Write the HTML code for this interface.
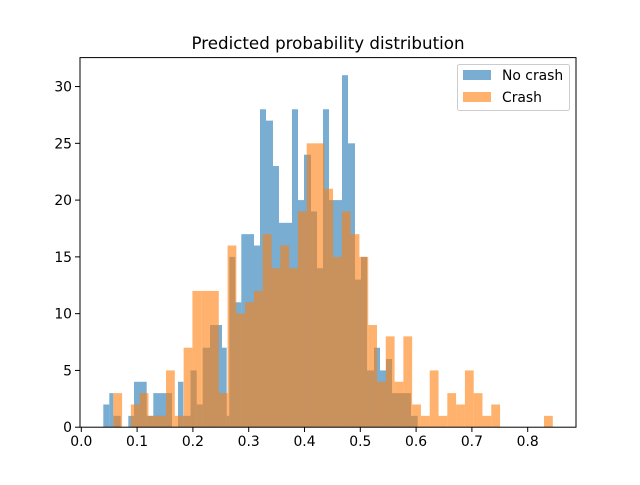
<!DOCTYPE html>
<html><head><meta charset="utf-8"><style>
html,body{margin:0;padding:0;background:#fff;}
svg text{font-family:"DejaVu Sans","Liberation Sans",sans-serif;fill:#000;}
</style></head><body>
<svg width="640" height="480" xmlns="http://www.w3.org/2000/svg">
<rect width="640" height="480" fill="#fff"/>
<g id="blue" fill="#1f77b4" fill-opacity="0.6"></g>
<g id="orange" fill="#ff7f0e" fill-opacity="0.6"></g>
<rect x="80" y="57.6" width="496" height="369.6" fill="none" stroke="#000" stroke-width="1"/>
<g id="ticks" stroke="#000" stroke-width="1"></g>
<g id="labels" font-size="13.9"></g>
<text x="328" y="49" font-size="16.7" text-anchor="middle">Predicted probability distribution</text>
<rect x="457.5" y="64.5" width="112" height="46" rx="2" fill="#fff" fill-opacity="0.8" stroke="#ccc"/>
<rect x="463" y="70" width="28" height="10" fill="#1f77b4" fill-opacity="0.6"/>
<rect x="463" y="92" width="28" height="10" fill="#ff7f0e" fill-opacity="0.6"/>
<text x="502" y="80" font-size="13.9">No crash</text>
<text x="502" y="102" font-size="13.9">Crash</text>
</svg>
<script>
var NS="http://www.w3.org/2000/svg";
function Y(c){return 427.2-11.355*c;}
function bar(g,x0,x1,c){if(!c)return;var r=document.createElementNS(NS,"rect");r.setAttribute("x",x0);r.setAttribute("width",x1-x0);r.setAttribute("y",Y(c));r.setAttribute("height",427.2-Y(c));g.appendChild(r);}
var blue=[[103.3,109.3,2],[109.3,113.3,3],[113.3,120.7,1],[128.3,134,1],[134,146.7,4],[146.7,153.3,1],[153.3,172,3],[178,183.3,4],[183.3,190.5,1],[190.5,196.7,5],[196.7,202.7,2],[202.7,210,7],[210,222,9],[222,226.7,7],[226.7,229.3,1],[229.3,235.3,15],[235.3,241.3,11],[241.3,254,17],[254,260,16],[260,266,28],[266,273,27],[273,279,23],[279,292,18],[292,298,28],[298,304,20],[304,311,24],[311,317,19],[317,323,14],[323,329,28],[329,342,20],[342,348,31],[348,355,25],[355,361,13],[361,367,15],[367,374,5],[374,380,7],[380,386,5],[386,392,6],[392,411,3],[411,417.7,1]];
var gb=document.getElementById("blue");
blue.forEach(function(b){bar(gb,b[0],b[1],b[2]);});
var oc=[3,0,2,3,1,1,5,1,7,12,12,12,3,16,10,11,12,17,14,16,14,19,25,25,21,15,19,17,15,9,4,8,4,8,2,1,5,1,3,2,5,3,1,2,0,0,0,0,0,1];
var go=document.getElementById("orange");
for(var k=0;k<50;k++){bar(go,113.3+8.79*k,113.3+8.79*(k+1),oc[k]);}
var gt=document.getElementById("ticks"),gl=document.getElementById("labels");
function line(x1,y1,x2,y2){var l=document.createElementNS(NS,"line");l.setAttribute("x1",x1);l.setAttribute("y1",y1);l.setAttribute("x2",x2);l.setAttribute("y2",y2);gt.appendChild(l);}
function txt(x,y,s,a){var t=document.createElementNS(NS,"text");t.setAttribute("x",x);t.setAttribute("y",y);t.setAttribute("text-anchor",a);t.textContent=s;gl.appendChild(t);}
for(var i=0;i<=8;i++){var x=81.3+55.8*i;line(x,427.2,x,432);txt(x,446,(i/10).toFixed(1),"middle");}
for(var j=0;j<=6;j++){var y=Y(5*j);line(75,y,80,y);txt(72,y+5,String(5*j),"end");}
</script>
</body></html>
